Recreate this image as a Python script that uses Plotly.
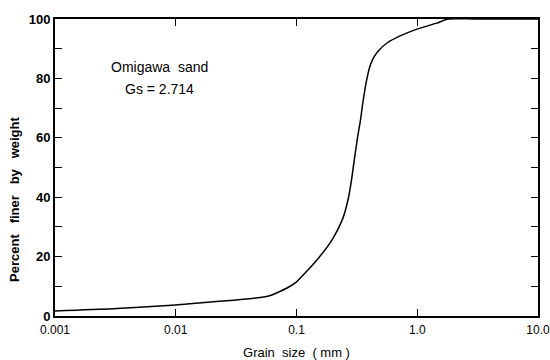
import math
import plotly.graph_objects as go

grain_size_mm = [0.001, 0.003, 0.01, 0.0155, 0.03, 0.05, 0.0618, 0.0705, 0.085, 0.1, 0.125,
                 0.150, 0.1995, 0.241, 0.268, 0.286, 0.302, 0.32, 0.339, 0.352, 0.379,
                 0.409, 0.44, 0.48, 0.565, 0.722, 0.995, 1.45, 1.8, 3.0, 10.0]
percent_finer = [1.7, 2.4, 3.7, 4.4, 5.3, 6.2, 7.0, 8.0, 9.6, 11.5, 15.6,
                 19.2, 26.0, 32.7, 39.4, 46.0, 53.0, 60.0, 66.0, 71.0, 79.0,
                 84.5, 87.3, 89.4, 92.0, 94.3, 96.6, 98.6, 100.0, 100.0, 100.0]

x_tickvals = [0.001, 0.01, 0.1, 1.0, 10.0]
x_ticktext = ["0.001", "0.01", "0.1", "1.0", "10.0"]
y_tickvals = [0, 10, 20, 30, 40, 50, 60, 70, 80, 90, 100]
y_ticktext = ["0", "", "20", "", "40", "", "60", "", "80", "", "100"]

fig = go.Figure()
fig.add_trace(go.Scatter(x=grain_size_mm, y=percent_finer, mode="lines",
                         line=dict(color="black", width=1.5, shape="spline", smoothing=0.6),
                         showlegend=False, hoverinfo="skip"))

font_family = "Liberation Sans, Arial, sans-serif"
label_x = math.log10(0.0073)

fig.update_layout(
    width=550, height=360,
    margin=dict(l=55, r=12, t=19, b=44),
    paper_bgcolor="white", plot_bgcolor="white",
    font=dict(family=font_family, color="black"),
    xaxis=dict(type="log", range=[-3, 1], tickvals=x_tickvals, ticktext=x_ticktext,
               ticks="inside", ticklen=7, tickwidth=1.2, tickcolor="black",
               showline=True, linecolor="black", linewidth=2, mirror="ticks",
               showgrid=False, zeroline=False, automargin=False,
               ticklabeloverflow="allow", ticklabelstandoff=2,
               tickfont=dict(size=12),
               title=dict(text="Grain  size  ( mm )", font=dict(size=13), standoff=12)),
    yaxis=dict(range=[0, 100], tickvals=y_tickvals, ticktext=y_ticktext,
               ticks="inside", ticklen=7, tickwidth=1.2, tickcolor="black",
               showline=True, linecolor="black", linewidth=2, mirror="ticks",
               showgrid=False, zeroline=False, automargin=False,
               tickfont=dict(size=13, weight="bold")),
    annotations=[
        dict(text="Omigawa  sand", x=label_x, y=83.8, xref="x", yref="y", showarrow=False,
             font=dict(size=14), xanchor="center", yanchor="middle"),
        dict(text="Gs = 2.714", x=label_x, y=76.4, xref="x", yref="y", showarrow=False,
             font=dict(size=14), xanchor="center", yanchor="middle"),
        dict(text="<b>Percent   finer   by   weight</b>", x=-0.083, y=0.394,
             xref="paper", yref="paper", showarrow=False, textangle=-90,
             font=dict(size=13), xanchor="center", yanchor="middle"),
    ],
)

# remove the default 8px page margin so the 550x360 figure fills the window exactly
fig.write_html("out.html", config={"displayModeBar": False},
               post_script="document.body.style.margin='0';document.body.style.overflow='hidden';")
